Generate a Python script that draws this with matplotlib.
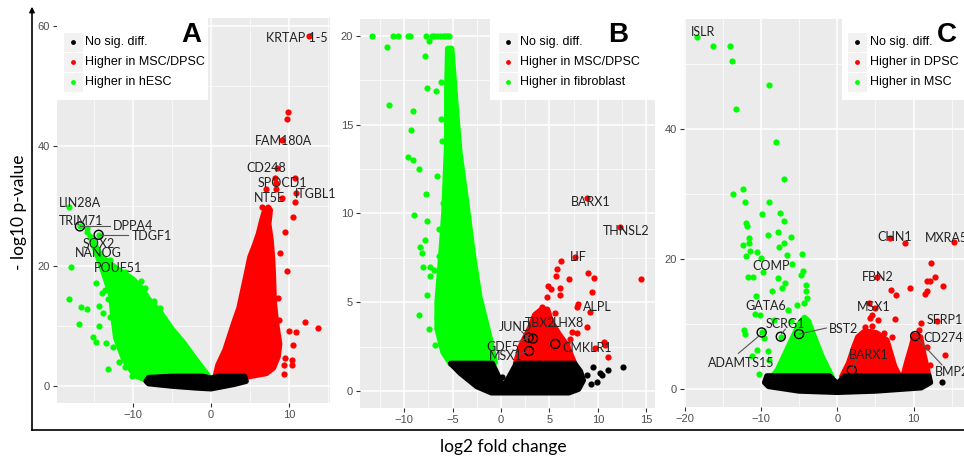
import numpy as np
import matplotlib
matplotlib.use("Agg")
import matplotlib.pyplot as plt
from matplotlib.patches import Polygon, Rectangle

# ---------------- DATA ----------------
legend_labels_a = ["No sig. diff.", "Higher in MSC/DPSC", "Higher in hESC"]
legend_labels_b = ["No sig. diff.", "Higher in MSC/DPSC", "Higher in fibroblast"]
legend_labels_c = ["No sig. diff.", "Higher in DPSC", "Higher in MSC"]
panel_letters = ["A", "B", "C"]

# Panel A  (dense clouds as outlines, sparse points individually)
a_ns_env_x = [-8.3, -8.0, -5, -1, 0, 1, 4.3, 4.5, 3, 1, 0, -2, -5, -8]
a_ns_env_y = [0.8, 1.4, 1.6, 1.6, 1.3, 1.6, 1.6, 0.8, 0.3, -0.2, -0.45, -0.3, 0.0, 0.4]
a_dn_env_x = [-15.5, -14, -12, -10, -9, -8, -6.5, -5, -3.5, -2, -0.4, -0.4, -8, -9.8, -11.2,
              -12.2, -12.6, -12.8, -13.8]
a_dn_env_y = [25, 21.5, 19.5, 17.8, 16.5, 14.5, 12.3, 9.5, 7.2, 4.5, 1.8, 1.2, 0.8, 1.8, 4.5,
              8, 12, 15, 19]
a_up_env_x = [0.5, 0.9, 1.8, 2.9, 3.6, 4.1, 4.6, 5.0, 5.6, 6.1, 6.5, 6.9, 7.35, 7.6, 7.4, 7.7,
              7.9, 8.0, 8.1, 8.4, 8.8, 8.6, 8.0, 7.1, 3.7, 0.5]
a_up_env_y = [1.3, 3.5, 6.0, 10.4, 13.0, 16.0, 19.0, 21.5, 23.5, 25.4, 27.5, 29.3, 29.8, 29.3, 27.0,
              24.3, 21.0, 18.2, 14.0, 10.4, 7.0, 4.9, 3.0, 2.1, 1.3, 1.0]
a_dn_x = [-18.2, -16.8, -15.9, -15.9, -15.3, -14.4, -15.0, -14.65, -14.0, -12.9, -17.9, -18.2, -16.7,
          -15.9, -16.9, -14.7, -14.4, -14.3, -15.1, -14.7, -13.4, -13.2, -10.1, -13.6, -13.2, -12.9,
          -12.6, -11.8, -11.0, -13.8, -14.0, -11.0, -9.0, -8.5, -6.5, -7.3]
a_dn_y = [29.8, 26.6, 26.4, 25.7, 24.6, 25.2, 23.6, 22.4, 21.0, 21.0, 19.8, 14.5, 13.1,
          12.9, 10.3, 17.1, 13.3, 10.0, 8.2, 7.4, 7.1, 2.8, 1.7, 16.0, 14.5, 11.5,
          6.5, 4.0, 3.2, 12.2, 15.5, 19.0, 17.5, 16.3, 13.0, 14.2]
a_up_x = [12.6, 9.9, 9.8, 9.06, 8.5, 10.8, 8.2, 8.4, 7.05, 8.3, 9.06, 10.9, 10.8, 6.5, 10.5, 9.5,
          9.8, 8.85, 8.6, 12.05, 13.7, 10.0, 10.9, 10.55, 9.5, 10.35, 9.3, 10.35, 9.36, 8.76, 8.4]
a_up_y = [58.3, 45.7, 44.5, 41.0, 36.3, 34.6, 34.6, 33.8, 32.9, 32.9, 31.3, 32.1, 30.6, 29.9, 28.1, 25.7,
          19.1, 22.1, 14.6, 10.6, 9.6, 9.2, 9.05, 6.8, 4.6, 4.4, 3.5, 3.5, 2.0, 11.0, 6.0]
a_circ_x = [-16.8, -14.4]
a_circ_y = [26.6, 25.2]
a_genes = ["KRTAP 1-5", "FAM180A", "CD248", "SPOCD1", "NT5E", "ITGBL1",
           "LIN28A", "TRIM71", "DPPA4", "TDGF1", "SOX2", "NANOG", "POUF51"]

# Panel B
b_ns_env_x = [-5.2, -0.9, 0.25, 1.6, 7.6, 8.2, 8.5, 8.0, 7.0, -1.0, -2.5, -4.2]
b_ns_env_y = [1.55, 1.55, 0.2, 1.55, 1.55, 1.1, 0.6, 0.1, -0.1, -0.1, 0.25, 1.0]
b_dn_env_x = [-5.5, -5.1, -4.6, -4.25, -3.55, -2.9, -2.2, -1.1, -0.6, -0.9, -5.2, -6.0, -6.6, -6.6,
              -6.3, -5.9, -5.6, -5.6]
b_dn_env_y = [19.3, 19.3, 15.7, 13.4, 10.6, 7.8, 5.3, 2.9, 1.6, 1.5, 1.5, 2.2, 3.5, 5.0,
              7.0, 10.0, 14.0, 17.0]
b_up_env_x = [1.5, 2.0, 3.0, 3.5, 4.2, 4.8, 5.2, 6.0, 6.8, 7.6]
b_up_env_y = [1.55, 2.5, 3.6, 4.3, 4.6, 4.6, 3.9, 3.2, 2.6, 1.55]
b_dn_x = [-13.3, -11.2, -10.6, -9.6, -9.4, -7.75, -7.1, -6.9, -6.6, -6.3, -6.0, -5.8, -5.6, -5.4,
          -11.8, -7.4, -7.9, -11.6, -9.1, -9.3, -9.6, -9.05, -8.5, -6.2, -6.1, -7.6, -6.75, -6.2,
          -6.6, -7.75, -9.0, -7.6, -6.4, -7.85, -8.4, -8.2, -6.4, -8.1, -7.3, -6.9, -7.3, -7.6,
          -8.5, -7.4, -6.8, -6.6, -5.95, -5.5, -5.45, -5.3]
b_dn_y = [20, 20, 20, 20, 20, 20, 20, 20, 20, 20, 20, 20, 20, 20,
          19.4, 19.7, 18.9, 16.1, 15.8, 14.7, 13.2, 13.0, 12.5, 15.3, 14.1, 17.1, 16.9, 17.4,
          12.1, 11.1, 9.9, 9.6, 9.1, 8.5, 8.1, 7.8, 7.6, 7.0, 7.0, 6.8, 6.5, 5.4,
          4.3, 3.5, 2.6, 4.1, 10.6, 13.3, 14.6, 18.1]
b_up_x = [8.9, 12.3, 7.6, 6.2, 5.8, 5.65, 7.0, 8.95, 9.6, 14.46, 4.9, 5.2, 6.1, 6.1, 9.4, 4.8, 8.0,
          7.9, 9.2, 4.2, 5.6, 8.85, 7.3, 7.8, 10.6, 10.75, 11.1, 9.7, 7.1, 6.8]
b_up_y = [10.85, 9.26, 7.57, 7.3, 6.86, 6.5, 6.33, 6.63, 6.39, 6.3, 5.9, 5.75, 5.79, 5.4, 5.6, 5.3, 4.9,
          4.75, 4.47, 4.75, 4.38, 3.62, 3.34, 3.25, 2.78, 2.6, 1.93, 2.4, 2.9, 2.6]
b_ns_x = [12.6, 11.1, 10.4, 9.5, 8.85, 9.9, 8.2, 10.2, 0.07, 9.3]
b_ns_y = [1.37, 1.18, 0.9, 1.37, 0.9, 0.5, 0.5, 1.0, 0.8, 0.4]
b_circ_x = [2.85, 3.3, 5.6, 2.9]
b_circ_y = [3.0, 2.95, 2.65, 2.25]
b_genes = ["BARX1", "THNSL2", "LIF", "ALPL", "JUND", "TBX2", "LHX8", "GDF5", "MSX1", "CMKLR1"]

# Panel C
c_ns_env_x = [-9.5, -9.2, -1, 0, 1, 12, 12.2, 11, 5, 0, -5, -9]
c_ns_env_y = [1.0, 2.0, 2.0, 0.8, 2.0, 2.0, 1.0, 0.2, -0.3, -0.5, -0.3, 0.4]
c_dn_env_x = [-0.7, -2, -3, -3.8, -4.3, -5, -5.8, -6.8, -7.8, -8.5]
c_dn_env_y = [1.9, 5, 8, 10.5, 11, 10, 8, 5.5, 3, 1.9]
c_up1_env_x = [0.6, 1.5, 2.2, 2.7, 3.5, 4.3, 5.2, 6.5, 7.0, 7.5, 8.2]
c_up1_env_y = [1.9, 4, 6.5, 8.0, 8.8, 8.8, 8.6, 7.5, 5.5, 3.5, 1.9]
c_up2_env_x = [8.6, 9.2, 9.7, 10.1, 10.9, 11.3, 11.8, 12.0]
c_up2_env_y = [1.9, 4.5, 6.5, 8.3, 8.0, 5.5, 3.0, 1.9]
c_dn_x = [-18.4, -16.25, -14.0, -13.8, -8.9, -13.2, -8.0, -6.95, -13.6, -12.3, -12.1, -8.9, -9.9,
          -7.5, -6.95, -12.0, -11.85, -9.1, -7.8, -6.1, -11.55, -11.6, -12.3, -7.0, -7.6, -11.4,
          -10.5, -12.0, -10.0, -6.6, -4.6, -5.9, -4.55, -4.75, -11.7, -11.0, -7.75, -9.7, -6.9,
          -7.3, -4.1, -8.5, -4.15, -3.9, -10.7, -5.3, -4.3, -10.75, -6.5, -10.1, -12.2, -12.1,
          -9.65, -10.45, -11.1, -9.1, -8.9, -10.2, -8.3, -6.1, -9.9, -7.4, -5.0]
c_dn_y = [54.2, 52.7, 52.8, 50.4, 46.7, 43.0, 38.0, 32.3, 30.0, 30.7, 28.8, 28.8, 26.9,
          27.1, 25.8, 25.6, 25.0, 23.7, 24.1, 23.4, 23.2, 22.5, 22.2, 22.5, 21.9, 21.3,
          21.0, 20.4, 20.1, 20.6, 20.7, 19.3, 18.2, 17.5, 17.3, 17.2, 17.1, 18.0, 16.3,
          15.5, 16.0, 15.1, 15.0, 13.95, 14.3, 12.9, 13.2, 11.5, 12.2, 11.4, 9.1, 8.5,
          7.8, 6.0, 5.1, 5.9, 4.5, 2.3, 10.6, 10.4, 8.7, 8.05, 8.45]
c_up_x = [6.85, 8.9, 15.3, 12.3, 12.75, 11.75, 12.2, 13.9, 5.2, 7.0, 7.7, 9.55, 11.8, 11.5, 4.2,
          5.0, 4.5, 4.3, 5.3, 7.6, 13.0, 11.0, 10.7, 3.7, 4.6, 6.1, 7.2, 14.15, 12.2, 11.75, 10.2]
c_up_y = [23.3, 22.4, 22.6, 19.4, 17.3, 16.6, 16.6, 15.8, 17.3, 15.2, 14.5, 15.5, 15.1, 14.6, 13.3,
          12.4, 11.4, 10.9, 10.6, 10.8, 10.5, 10.1, 9.1, 9.6, 9.7, 8.6, 8.0, 5.2, 3.7, 6.5, 8.15]
c_ns_x = [13.7]
c_ns_y = [1.1]
c_circ_x = [-9.9, -7.4, -5.0, 10.2, 1.9]
c_circ_y = [8.7, 8.05, 8.45, 8.15, 2.9]
c_genes = ["ISLR", "COMP", "GATA6", "SCRG1", "BST2", "ADAMTS15", "CHN1", "MXRA5", "FBN2",
           "MSX1", "SFRP1", "CD274", "BMP2", "BARX1"]

# ---------------- STYLE ----------------
W, H = 964, 459
GREEN, RED, BLACK = "#00FF00", "#FF0000", "#000000"
LAB_FONT = ["Lato", "DejaVu Sans"]
TICK_FONT = ["Liberation Sans", "DejaVu Sans"]
PT_S = 20

fig = plt.figure(figsize=(W / 100, H / 100), dpi=100)
fig.patch.set_facecolor("white")


def add_ax(x0, y0, x1, y1):
    return fig.add_axes([x0 / W, 1 - y1 / H, (x1 - x0) / W, (y1 - y0) / H])


def style(ax, xlim, ylim, xmaj, xmin, ymaj, ymin):
    ax.set_facecolor("#EBEBEB")
    for s in ax.spines.values():
        s.set_visible(False)
    ax.set_xlim(*xlim)
    ax.set_ylim(*ylim)
    ax.set_xticks(xmaj)
    ax.set_xticks(xmin, minor=True)
    ax.set_yticks(ymaj)
    ax.set_yticks(ymin, minor=True)
    ax.grid(True, which="major", color="white", lw=1.1)
    ax.grid(True, which="minor", color="white", lw=0.5)
    ax.set_axisbelow(True)
    ax.tick_params(which="major", length=3, color="#333333", labelcolor="#4D4D4D",
                   labelsize=8, pad=2)
    ax.tick_params(which="minor", length=0)
    for lab in ax.get_xticklabels() + ax.get_yticklabels():
        lab.set_family(TICK_FONT)


def cloud(ax, xs, ys, color, z):
    ax.add_patch(Polygon(np.column_stack([xs, ys]), closed=True, fc=color, ec=color,
                         lw=4, joinstyle="round", zorder=z))


def pts(ax, xs, ys, color, z):
    ax.scatter(xs, ys, s=PT_S, c=color, linewidths=0, zorder=z)


def circ(ax, xs, ys):
    ax.scatter(xs, ys, s=42, facecolors="none", edgecolors="black", linewidths=1.0, zorder=6)


def lab(ax, txt, x, y, ha="center"):
    ax.text(x, y, txt, ha=ha, va="center", fontsize=9, family=LAB_FONT, color="#222222", zorder=7)


def lead(ax, x0, y0, x1, y1):
    ax.plot([x0, x1], [y0, y1], color="#555555", lw=0.8, zorder=6)


# ---------------- PANEL A ----------------
axA = add_ax(57, 18, 330, 403)
style(axA, (-19.74, 15.26), (-2.83, 61.33), [-10, 0, 10], [-15, -5, 5, 15],
      [0, 20, 40, 60], [10, 30, 50])
cloud(axA, a_dn_env_x, a_dn_env_y, GREEN, 2)
cloud(axA, a_up_env_x, a_up_env_y, RED, 2)
pts(axA, a_dn_x, a_dn_y, GREEN, 3)
pts(axA, a_up_x, a_up_y, RED, 3)
cloud(axA, a_ns_env_x, a_ns_env_y, BLACK, 4)
circ(axA, a_circ_x, a_circ_y)
lead(axA, -16.8, 26.6, -12.95, 26.6)
lead(axA, -14.4, 25.1, -10.6, 25.1)
a_lab_pos = [(11.0, 58.05, "center"), (9.27, 40.8, "center"), (7.14, 36.3, "center"),
             (9.1, 33.9, "center"), (7.53, 31.4, "center"), (10.77, 31.95, "left"),
             (-16.83, 30.55, "center"), (-16.67, 27.55, "center"), (-12.53, 26.67, "left"),
             (-10.17, 25.0, "left"), (-14.36, 23.67, "center"), (-14.4, 22.1, "center"),
             (-11.88, 19.6, "center")]
for g, (x, y, ha) in zip(a_genes, a_lab_pos):
    lab(axA, g, x, y, ha)

# ---------------- PANEL B ----------------
axB = add_ax(360, 19, 655, 408)
style(axB, (-14.57, 15.91), (-0.96, 20.96), [-10, -5, 0, 5, 10, 15],
      [-12.5, -7.5, -2.5, 2.5, 7.5, 12.5], [0, 5, 10, 15, 20], [2.5, 7.5, 12.5, 17.5])
cloud(axB, b_dn_env_x, b_dn_env_y, GREEN, 2)
cloud(axB, b_up_env_x, b_up_env_y, RED, 2)
pts(axB, b_dn_x, b_dn_y, GREEN, 3)
pts(axB, b_up_x, b_up_y, RED, 3)
cloud(axB, b_ns_env_x, b_ns_env_y, BLACK, 4)
pts(axB, b_ns_x, b_ns_y, BLACK, 4)
circ(axB, b_circ_x, b_circ_y)
lead(axB, 2.14, 3.34, 2.85, 3.0)
lead(axB, 1.79, 2.78, 2.85, 3.0)
lead(axB, 1.96, 2.08, 2.9, 2.25)
b_lab_pos = [(9.3, 10.66, "center"), (12.9, 9.03, "center"), (7.99, 7.57, "center"),
             (10.0, 4.75, "center"), (1.55, 3.62, "center"), (4.03, 3.85, "center"),
             (7.02, 3.81, "center"), (0.15, 2.5, "center"), (0.52, 1.97, "center"),
             (8.94, 2.41, "center")]
for g, (x, y, ha) in zip(b_genes, b_lab_pos):
    lab(axB, g, x, y, ha)

# ---------------- PANEL C ----------------
axC = add_ax(684, 19, 964, 407)
style(axC, (-20.07, 16.6), (-2.77, 56.92), [-20, -10, 0, 10], [-15, -5, 5, 15],
      [0, 20, 40], [10, 30, 50])
cloud(axC, c_dn_env_x, c_dn_env_y, GREEN, 2)
cloud(axC, c_up1_env_x, c_up1_env_y, RED, 2)
cloud(axC, c_up2_env_x, c_up2_env_y, RED, 2)
pts(axC, c_dn_x, c_dn_y, GREEN, 3)
pts(axC, c_up_x, c_up_y, RED, 3)
cloud(axC, c_ns_env_x, c_ns_env_y, BLACK, 4)
pts(axC, c_ns_x, c_ns_y, BLACK, 4)
circ(axC, c_circ_x, c_circ_y)
lead(axC, -12.94, 5.49, -10.1, 8.3)
lead(axC, -6.8, 9.2, -7.3, 8.5)
lead(axC, -5.0, 8.45, -1.44, 9.38)
lead(axC, 10.2, 8.15, 13.72, 3.7)
lead(axC, 2.58, 4.57, 1.9, 2.9)
c_lab_pos = [(-17.56, 54.9, "center"), (-8.72, 18.97, "center"), (-9.31, 12.77, "center"),
             (-6.75, 10.0, "center"), (-1.14, 9.18, "left"), (-12.58, 4.05, "center"),
             (7.47, 23.43, "center"), (11.53, 23.28, "left"), (5.24, 17.28, "center"),
             (4.72, 12.66, "center"), (14.09, 10.6, "center"), (13.9, 7.8, "center"),
             (12.75, 2.66, "left"), (4.06, 5.23, "center")]
for g, (x, y, ha) in zip(c_genes, c_lab_pos):
    lab(axC, g, x, y, ha)

# ---------------- OVERLAY (pixel coordinates) ----------------
ov = fig.add_axes([0, 0, 1, 1], zorder=10)
ov.set_xlim(0, W)
ov.set_ylim(H, 0)
ov.axis("off")


def legend(x0, y0, x1, y1, keyx, textx, labels):
    ov.add_patch(Rectangle((x0, y0), x1 - x0, y1 - y0, fc="white", ec="none"))
    for r, t, col in zip([42, 62, 82], labels, [BLACK, RED, GREEN]):
        ov.add_patch(Rectangle((keyx - 9.5, r - 9.5), 19, 19, fc="#F2F2F2", ec="none"))
        ov.scatter([keyx], [r], s=12, c=col, linewidths=0, zorder=11)
        ov.text(textx, r, t, ha="left", va="center", fontsize=9, family=TICK_FONT, color="black")


legend(57, 18, 208, 100, 73, 85, legend_labels_a)
legend(490, 18, 655, 100, 508, 520, legend_labels_b)
legend(842, 18, 964, 100, 857, 870, legend_labels_c)

for L, x in zip(panel_letters, [191, 618, 946.5]):
    ov.text(x, 41.7, L, ha="center", va="baseline", fontsize=20, fontweight="bold",
            family=TICK_FONT, color="black")

# outer axis arrows
ov.plot([32, 32], [430, 12], color="black", lw=1.2, clip_on=False)
ov.annotate("", xy=(32, 4), xytext=(32, 14),
            arrowprops=dict(arrowstyle="-|>", color="black", lw=1.0, mutation_scale=8))
ov.plot([32, 964], [430, 430], color="black", lw=1.2, clip_on=False)

ov.text(19, 212, "- log10 p-value", rotation=90, ha="center", va="center", fontsize=12.5,
        family=LAB_FONT, color="black")
ov.text(503, 452, "log2 fold change", ha="center", va="baseline", fontsize=12.5,
        family=LAB_FONT, color="black")

fig.savefig("out.png", dpi=100)
